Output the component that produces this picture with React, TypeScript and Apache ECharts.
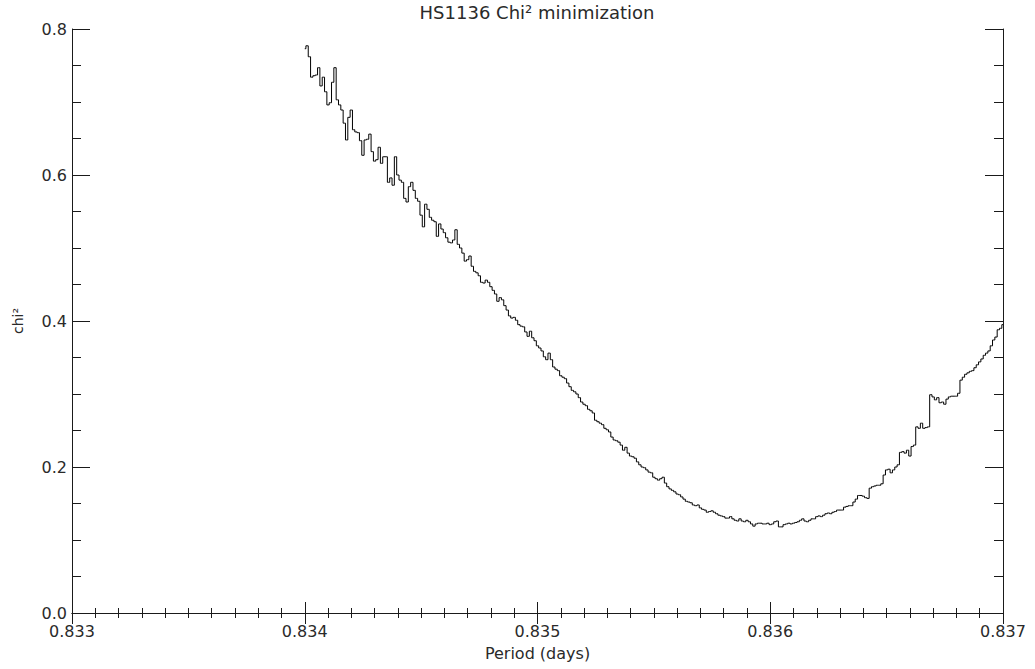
import React, { useEffect, useRef } from "react";
import * as echarts from "echarts";

const titleText = "HS1136 Chi² minimization";
const xName = "Period (days)";
const yName = "chi²";

const xMin = 0.833;
const xMax = 0.837;
const xInterval = 0.001;
const yMin = 0;
const yMax = 0.8;
const yInterval = 0.2;

// sampling grid of the period search
const periodStart = 0.834;
const periodStep = 0.00001;

const chi2 = [
  0.773, 0.777, 0.762, 0.734, 0.736, 0.737, 0.747, 0.722, 0.734, 0.714,
  0.696, 0.699, 0.727, 0.747, 0.703, 0.696, 0.689, 0.671, 0.648, 0.679,
  0.689, 0.662, 0.659, 0.658, 0.647, 0.627, 0.648, 0.649, 0.656, 0.632,
  0.619, 0.621, 0.638, 0.616, 0.625, 0.625, 0.590, 0.596, 0.586, 0.625,
  0.600, 0.593, 0.590, 0.568, 0.563, 0.584, 0.590, 0.579, 0.568, 0.564,
  0.545, 0.529, 0.560, 0.553, 0.542, 0.538, 0.536, 0.516, 0.533, 0.526,
  0.521, 0.514, 0.508, 0.507, 0.511, 0.525, 0.505, 0.500, 0.493, 0.482,
  0.484, 0.489, 0.475, 0.468, 0.466, 0.462, 0.453, 0.452, 0.456, 0.453,
  0.447, 0.442, 0.437, 0.427, 0.432, 0.429, 0.421, 0.415, 0.407, 0.404,
  0.405, 0.401, 0.395, 0.393, 0.392, 0.385, 0.379, 0.386, 0.377, 0.373,
  0.366, 0.363, 0.359, 0.351, 0.347, 0.356, 0.347, 0.337, 0.334, 0.332,
  0.325, 0.323, 0.321, 0.315, 0.310, 0.305, 0.303, 0.300, 0.295, 0.289,
  0.286, 0.284, 0.279, 0.277, 0.274, 0.264, 0.262, 0.260, 0.258, 0.253,
  0.251, 0.248, 0.241, 0.237, 0.236, 0.234, 0.230, 0.223, 0.227, 0.219,
  0.215, 0.214, 0.212, 0.207, 0.203, 0.200, 0.199, 0.196, 0.193, 0.192,
  0.186, 0.184, 0.182, 0.184, 0.186, 0.178, 0.173, 0.170, 0.168, 0.166,
  0.163, 0.162, 0.159, 0.156, 0.153, 0.152, 0.151, 0.148, 0.147, 0.148,
  0.144, 0.142, 0.141, 0.138, 0.139, 0.140, 0.138, 0.136, 0.134, 0.133,
  0.132, 0.130, 0.130, 0.132, 0.129, 0.127, 0.126, 0.129, 0.126, 0.125,
  0.127, 0.125, 0.122, 0.119, 0.122, 0.123, 0.123, 0.122, 0.122, 0.123,
  0.121, 0.122, 0.125, 0.126, 0.118, 0.118, 0.121, 0.122, 0.123, 0.122,
  0.123, 0.124, 0.125, 0.127, 0.129, 0.126, 0.125, 0.127, 0.129, 0.129,
  0.132, 0.133, 0.132, 0.134, 0.136, 0.137, 0.136, 0.138, 0.139, 0.141,
  0.141, 0.141, 0.145, 0.146, 0.147, 0.147, 0.152, 0.156, 0.161, 0.161,
  0.160, 0.158, 0.157, 0.171, 0.173, 0.174, 0.175, 0.175, 0.177, 0.189,
  0.196, 0.197, 0.192, 0.196, 0.200, 0.203, 0.220, 0.221, 0.219, 0.223,
  0.215, 0.228, 0.230, 0.255, 0.253, 0.260, 0.253, 0.254, 0.255, 0.299,
  0.296, 0.292, 0.295, 0.288, 0.289, 0.286, 0.293, 0.296, 0.297, 0.297,
  0.297, 0.301, 0.319, 0.323, 0.327, 0.329, 0.331, 0.332, 0.336, 0.340,
  0.344, 0.348, 0.353, 0.356, 0.359, 0.366, 0.374, 0.378, 0.388, 0.390,
  0.395,
];

const FONT = "'DejaVu Sans', 'Liberation Sans', sans-serif";
const INK = "#1a1a1a";
const TXT = "#2a2a2a";

export default function App() {
  const ref = useRef<HTMLDivElement>(null);

  useEffect(() => {
    if (!ref.current) return;
    const chart = echarts.init(ref.current, null, { renderer: "svg" });
    const data = chi2.map((v, i) => [
      Number((periodStart + i * periodStep).toFixed(6)),
      v,
    ]);
    const axisLine = { show: true, lineStyle: { color: INK, width: 1 } };
    const xTick = { show: true, inside: true, length: 11, lineStyle: { color: INK, width: 1 } };
    const xMinor = { show: true, splitNumber: 10, length: 5, lineStyle: { color: INK, width: 1 } };
    const yTick = { show: true, inside: true, length: 18, lineStyle: { color: INK, width: 1 } };
    const yMinor = { show: true, splitNumber: 4, length: 9, lineStyle: { color: INK, width: 1 } };

    chart.setOption({
      animation: false,
      backgroundColor: "#ffffff",
      graphic: [
        {
          type: "text",
          x: 537,
          y: 12,
          style: {
            text: titleText,
            fontFamily: FONT,
            fontSize: 18,
            fill: TXT,
            textAlign: "center",
            textVerticalAlign: "middle",
          },
        },
      ],
      grid: { left: 72, right: 32, top: 29, bottom: 56, containLabel: false },
      xAxis: [
        {
          type: "value",
          position: "bottom",
          min: xMin,
          max: xMax,
          interval: xInterval,
          axisLine,
          axisTick: xTick,
          minorTick: xMinor,
          splitLine: { show: false },
          axisLabel: {
            show: true,
            margin: 10,
            fontFamily: FONT,
            fontSize: 16,
            color: TXT,
            formatter: (v: number) => v.toFixed(3),
          },
          name: xName,
          nameLocation: "middle",
          nameGap: 32,
          nameTextStyle: { fontFamily: FONT, fontSize: 16, color: TXT },
        },
        {
          type: "value",
          position: "top",
          min: xMin,
          max: xMax,
          interval: xInterval,
          axisLine,
          axisTick: xTick,
          minorTick: xMinor,
          splitLine: { show: false },
          axisLabel: { show: false },
        },
      ],
      yAxis: [
        {
          type: "value",
          position: "left",
          min: yMin,
          max: yMax,
          interval: yInterval,
          axisLine,
          axisTick: yTick,
          minorTick: yMinor,
          splitLine: { show: false },
          axisLabel: {
            show: true,
            margin: 5,
            fontFamily: FONT,
            fontSize: 16,
            color: TXT,
            formatter: (v: number) => v.toFixed(1),
          },
          name: yName,
          nameLocation: "middle",
          nameGap: 47,
          nameRotate: 90,
          nameTextStyle: { fontFamily: FONT, fontSize: 14, color: TXT },
        },
        {
          type: "value",
          position: "right",
          min: yMin,
          max: yMax,
          interval: yInterval,
          axisLine,
          axisTick: yTick,
          minorTick: yMinor,
          splitLine: { show: false },
          axisLabel: { show: false },
        },
      ],
      series: [
        {
          type: "line",
          xAxisIndex: 0,
          yAxisIndex: 0,
          data,
          step: "middle",
          showSymbol: false,
          symbol: "none",
          lineStyle: { color: "#000000", width: 1 },
        },
      ],
    });
    return () => chart.dispose();
  }, []);

  return (
    <div
      ref={ref}
      style={{ position: "fixed", left: 0, top: 0, width: 1035, height: 669, background: "#fff" }}
    />
  );
}
